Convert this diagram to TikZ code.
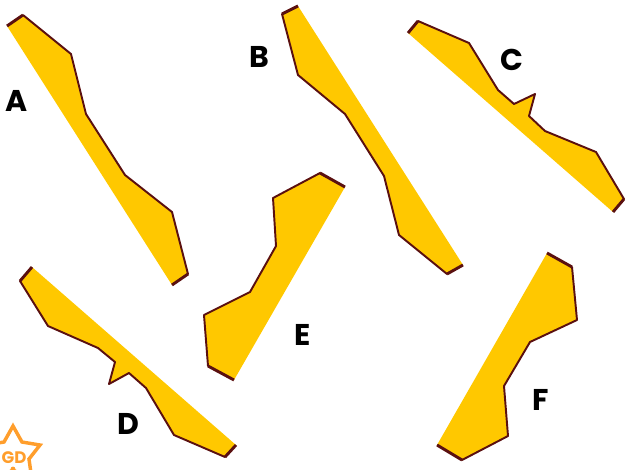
\documentclass[tikz,border=0pt]{standalone}
\usepackage{fontspec}
\setmainfont{Poppins}
\definecolor{fillY}{HTML}{FFC800}
\definecolor{edgeB}{HTML}{5A1010}
\definecolor{starO}{HTML}{FF9E2C}
\tikzset{
  x=0.75pt,y=-0.75pt,
  plate/.style={fill=fillY,draw=none},
  rim/.style={draw=edgeB,line width=1.45pt,line join=round,line cap=round},
  tip/.style={draw=edgeB,line width=2.2pt,line cap=butt},
  lab/.style={font=\fontsize{22.5}{22.5}\selectfont\bfseries,text=black,inner sep=0pt},
}
\begin{document}
\begin{tikzpicture}
\useasboundingbox (0,0) rectangle (627,469);
\clip (0,0) rectangle (627,469);
% A
\fill[plate] (7,26)--(23,15)--(71,54)--(86,114)--(125,175)--(172,212)--(188,274)--(172,285)--cycle;
\draw[rim] (23,15)--(71,54)--(86,114)--(125,175)--(172,212)--(188,274);
\draw[tip] (7,26)--(23,15); \draw[tip] (188,274)--(172,285);
% B
\fill[plate] (282,14)--(298,6)--(463,265)--(447,274)--(399,235)--(384,176)--(345,114)--(298,75)--cycle;
\draw[rim] (282,14)--(298,75)--(345,114)--(384,176)--(399,235)--(447,274);
\draw[tip] (298,6)--(282,14); \draw[tip] (447,274)--(463,265);
% C
\fill[plate] (408,33)--(418,21)--(469,43)--(498,90)--(514,104)--(535,94)--(529,116)--(545,131)--(596,152)--(624,199)--(613,212)--cycle;
\draw[rim] (418,21)--(469,43)--(498,90)--(514,104)--(535,94)--(529,116)--(545,131)--(596,152)--(624,199);
\draw[tip] (408,33)--(418,21); \draw[tip] (624,199)--(613,212);
% D
\fill[plate] (20,281)--(32,267)--(236,445)--(225,457)--(174,435)--(146,388)--(129,373)--(109,384)--(115,362)--(98,348)--(48,326)--cycle;
\draw[rim] (20,281)--(48,326)--(98,348)--(115,362)--(109,384)--(129,373)--(146,388)--(174,435)--(225,457);
\draw[tip] (32,267)--(20,281); \draw[tip] (225,457)--(236,445);
% E
\fill[plate] (345,187)--(320,173)--(273,198)--(276,246)--(250,292)--(204,315)--(208,366)--(234,380)--cycle;
\draw[rim] (320,173)--(273,198)--(276,246)--(250,292)--(204,315)--(208,366);
\draw[tip] (345,187)--(320,173); \draw[tip] (208,366)--(234,380);
% F
\fill[plate] (547,253)--(572,267)--(577,320)--(530,342)--(504,386)--(508,436)--(462,460)--(437,445)--cycle;
\draw[rim] (572,267)--(577,320)--(530,342)--(504,386)--(508,436)--(462,460);
\draw[tip] (547,253)--(572,267); \draw[tip] (462,460)--(437,445);
% labels
\node[lab] (la) at (17,101) {A};
\node[lab] (lb) at (259,57) {B};
\node[lab] (lc) at (512,60) {C};
\node[lab] (ld) at (128,424) {D};
\node[lab] (le) at (303,335) {E};
\node[lab] (lf) at (541,400) {F};
% star
\draw[draw=starO,line width=2.6pt,line join=miter]
  (13,426)--(22,442)--(40,445)--(29,459)--(32,480)--(13,470)--(-6,480)--(-3,459)--(-14,445)--(4,442)--cycle;
\node[font=\fontsize{12.5}{12.5}\selectfont\bfseries,text=starO,inner sep=0pt] (gd) at (14,458) {GD};
\fill[starO] (13,469) circle (2.4);
\end{tikzpicture}
\end{document}
